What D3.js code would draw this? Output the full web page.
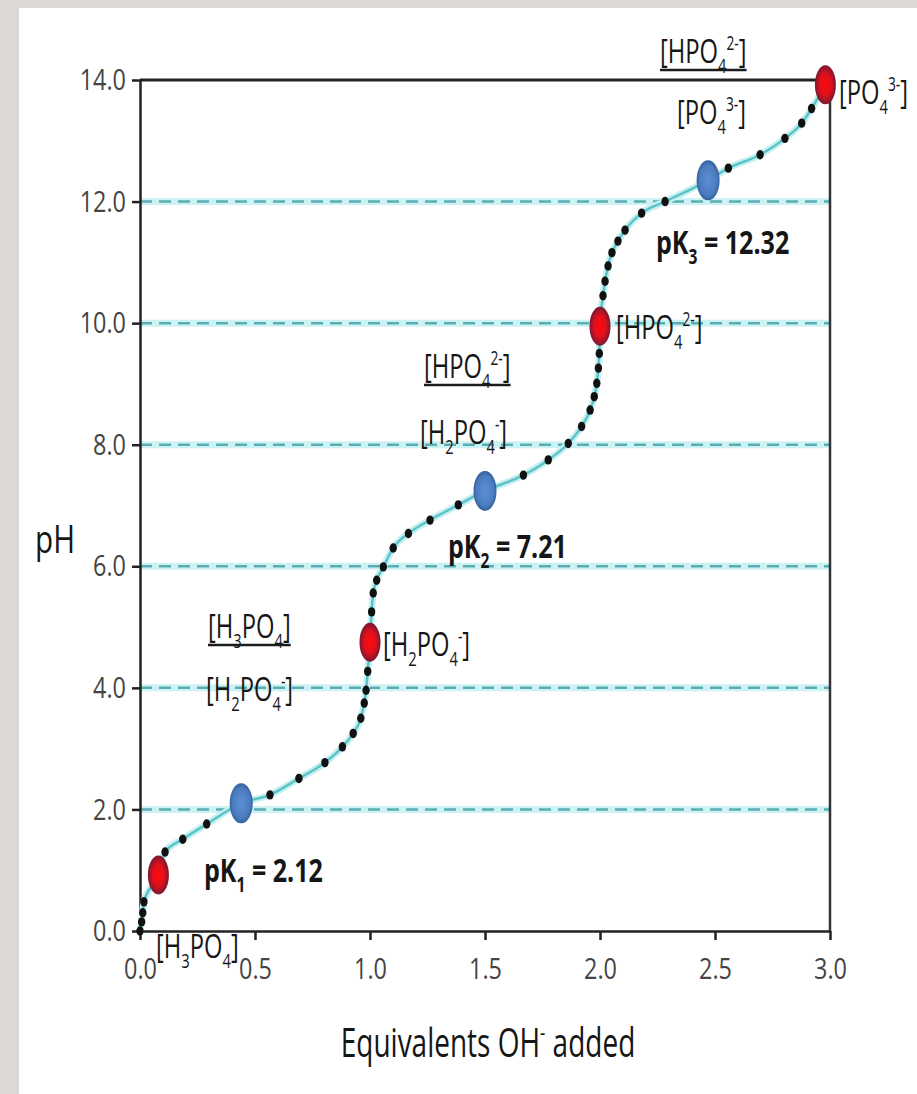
<!DOCTYPE html>
<html>
<head>
<meta charset="utf-8">
<script src="https://cdn.jsdelivr.net/npm/d3@7"></script>
<style>
  body { margin: 0; background: #dcd9d4; }
  svg { display: block; }
</style>
</head>
<body>
<div id="chart"></div>
<script>
// titration points (black dots), equivalents OH- vs pH
const dotEq = [0.0, 0.007, 0.012, 0.017, 0.109, 0.186, 0.29, 0.565, 0.691, 0.804, 0.88, 0.927, 0.96, 0.975, 0.983, 0.99,
  1.007, 1.014, 1.029, 1.058, 1.101, 1.167, 1.261, 1.384, 1.667, 1.775, 1.862, 1.92, 1.957, 1.975, 1.986, 1.993, 1.997,
  2.013, 2.022, 2.035, 2.052, 2.078, 2.109, 2.181, 2.283, 2.558, 2.696, 2.804, 2.877, 2.92];
const dotPH = [0.0, 0.15, 0.3, 0.48, 1.3, 1.51, 1.76, 2.24, 2.51, 2.77, 3.03, 3.25, 3.5, 3.75, 3.96, 4.27,
  5.25, 5.56, 5.77, 5.99, 6.3, 6.54, 6.76, 7.01, 7.5, 7.75, 8.02, 8.3, 8.57, 8.79, 9.01, 9.26, 9.5,
  10.45, 10.69, 10.94, 11.16, 11.35, 11.53, 11.81, 12.0, 12.55, 12.77, 13.04, 13.29, 13.53];

// equivalence points (red)
const eqPointEq = [0.08, 1.0, 2.0, 2.98];
const eqPointPH = [0.92, 4.75, 9.95, 13.92];

// half-equivalence points, pH = pKa (blue)
const pkEq = [0.44, 1.5, 2.47];
const pkPH = [2.1, 7.24, 12.35];
const pkLabels = ['pK_{1} = 2.12', 'pK_{2} = 7.21', 'pK_{3} = 12.32'];

// species
const species = ['[H_{3}PO_{4}]', '[H_{2}PO_{4}^{-}]', '[HPO_{4}^{2-}]', '[PO_{4}^{3-}]'];

const yTicks = [0, 2, 4, 6, 8, 10, 12, 14];
const xTicks = [0, 0.5, 1.0, 1.5, 2.0, 2.5, 3.0];
const gridPH = [2, 4, 6, 8, 10, 12];

const W = 917, H = 1094;
const FONT = '"Open Sans", "Liberation Sans", sans-serif';
const SX = 0.72;

const svg = d3.select('#chart').append('svg')
  .attr('width', W)
  .attr('height', H);

svg.append('rect')
  .attr('x', 19).attr('y', 8)
  .attr('width', W - 19).attr('height', H - 8)
  .attr('fill', '#ffffff');

const x = d3.scaleLinear().domain([0, 3]).range([140, 830]);
const y = d3.scaleLinear().domain([0, 14]).range([931, 80]);

// gradients for markers
const defs = svg.append('defs');
const redGrad = defs.append('radialGradient').attr('id', 'redGrad');
redGrad.append('stop').attr('offset', '0%').attr('stop-color', '#ff0a0a');
redGrad.append('stop').attr('offset', '55%').attr('stop-color', '#e0101c');
redGrad.append('stop').attr('offset', '100%').attr('stop-color', '#7a1830');
const blueGrad = defs.append('radialGradient').attr('id', 'blueGrad');
blueGrad.append('stop').attr('offset', '0%').attr('stop-color', '#5d8fd2');
blueGrad.append('stop').attr('offset', '75%').attr('stop-color', '#4c7cc0');
blueGrad.append('stop').attr('offset', '100%').attr('stop-color', '#34609c');

// chemistry-style text: _{sub} and ^{sup}
function chem(g, str, fs, weight) {
  const t = g.append('text')
    .attr('font-family', FONT)
    .attr('font-size', fs)
    .attr('font-weight', weight || 500)
    .attr('fill', '#161616');
  const re = /_\{([^}]*)\}|\^\{([^}]*)\}|([^_^]+)/g;
  let m, shift = 0;
  while ((m = re.exec(str))) {
    let target, size, txt;
    if (m[1] !== undefined) { target = 0.3 * fs; size = 0.62 * fs; txt = m[1]; }
    else if (m[2] !== undefined) { target = -0.4 * fs; size = 0.58 * fs; txt = m[2]; }
    else { target = 0; size = fs; txt = m[3]; }
    t.append('tspan')
      .attr('dy', target - shift)
      .attr('font-size', size)
      .text(txt);
    shift = target;
  }
  return t;
}

function label(str, px, py, fs, opts = {}) {
  const g = svg.append('g')
    .attr('transform', `translate(${px},${py}) scale(${opts.sx || SX},1)`);
  const t = chem(g, str, fs, opts.weight);
  if (opts.anchor) t.attr('text-anchor', opts.anchor);
  if (opts.underline) {
    const w = t.node().getComputedTextLength();
    g.append('line')
      .attr('x1', 0).attr('x2', w)
      .attr('y1', 7).attr('y2', 7)
      .attr('stroke', '#1c1c1c')
      .attr('stroke-width', 2.5);
  }
  return g;
}

// dashed grid lines with soft glow
const grid = svg.append('g');
grid.selectAll('line.glow')
  .data(gridPH)
  .join('line')
  .attr('class', 'glow')
  .attr('x1', x(0)).attr('x2', x(3))
  .attr('y1', d => y(d)).attr('y2', d => y(d))
  .attr('stroke', '#cdf2f3')
  .attr('stroke-width', 7);
grid.selectAll('line.dash')
  .data(gridPH)
  .join('line')
  .attr('class', 'dash')
  .attr('x1', x(0)).attr('x2', x(3))
  .attr('y1', d => y(d)).attr('y2', d => y(d))
  .attr('stroke', '#5aaeb2')
  .attr('stroke-width', 2.5)
  .attr('stroke-dasharray', '12,7');

// frame: top and right
svg.append('line')
  .attr('x1', x(0)).attr('x2', x(3))
  .attr('y1', y(14)).attr('y2', y(14))
  .attr('stroke', '#222').attr('stroke-width', 3);
svg.append('line')
  .attr('x1', x(3)).attr('x2', x(3))
  .attr('y1', y(14)).attr('y2', y(0))
  .attr('stroke', '#333').attr('stroke-width', 2.5);

// axes
const yAxis = svg.append('g')
  .attr('transform', `translate(${x(0)},0)`)
  .call(d3.axisLeft(y).tickValues(yTicks).tickFormat(d3.format('.1f')).tickSize(8).tickSizeOuter(0).tickPadding(10));
const xAxis = svg.append('g')
  .attr('transform', `translate(0,${y(0)})`)
  .call(d3.axisBottom(x).tickValues(xTicks).tickFormat(d3.format('.1f')).tickSize(9).tickSizeOuter(0).tickPadding(18));

[yAxis, xAxis].forEach(ax => {
  ax.select('.domain').attr('stroke', '#222').attr('stroke-width', 2.5);
  ax.selectAll('.tick line').attr('stroke', '#222').attr('stroke-width', 2.5);
  ax.selectAll('.tick text')
    .attr('font-family', FONT)
    .attr('font-size', 30)
    .attr('fill', '#444')
    .attr('transform', 'scale(0.78,1)');
});

// curve through all points
const curvePts = d3.range(dotEq.length).map(i => [dotEq[i], dotPH[i]])
  .concat(eqPointEq.map((d, i) => [d, eqPointPH[i]]))
  .concat(pkEq.map((d, i) => [d, pkPH[i]]))
  .sort((a, b) => a[0] - b[0]);

const line = d3.line()
  .x(d => x(d[0]))
  .y(d => y(d[1]))
  .curve(d3.curveMonotoneX);

svg.append('path')
  .datum(curvePts)
  .attr('d', line)
  .attr('fill', 'none')
  .attr('stroke', '#c6f0f1')
  .attr('stroke-width', 7);
svg.append('path')
  .datum(curvePts)
  .attr('d', line)
  .attr('fill', 'none')
  .attr('stroke', '#5cc3c8')
  .attr('stroke-width', 2.5);

svg.append('g')
  .selectAll('ellipse')
  .data(dotEq)
  .join('ellipse')
  .attr('cx', d => x(d))
  .attr('cy', (d, i) => y(dotPH[i]))
  .attr('rx', 3.7)
  .attr('ry', 4.7)
  .attr('fill', '#111');

svg.append('g')
  .selectAll('ellipse')
  .data(pkEq)
  .join('ellipse')
  .attr('cx', d => x(d))
  .attr('cy', (d, i) => y(pkPH[i]))
  .attr('rx', 11.5)
  .attr('ry', 20)
  .attr('fill', 'url(#blueGrad)');

svg.append('g')
  .selectAll('ellipse')
  .data(eqPointEq)
  .join('ellipse')
  .attr('cx', d => x(d))
  .attr('cy', (d, i) => y(eqPointPH[i]))
  .attr('rx', 10.5)
  .attr('ry', 19.5)
  .attr('fill', 'url(#redGrad)');

// annotations
const FS = 33;
const PK = { weight: 700, sx: 0.76 };
label(species[0], 208, 638, FS, { underline: true });
label(species[1], 206, 701, FS);
label(species[1], 383, 656, FS);
label(pkLabels[0], 204, 882, FS, PK);
label(species[0], 156, 958, FS);

label(species[2], 424, 378, FS, { underline: true });
label(species[1], 420, 444, FS);
label(pkLabels[1], 448, 558, FS, PK);
label(species[2], 616, 339, FS);

label(species[2], 660, 63, FS, { underline: true });
label(species[3], 677, 124, FS);
label(pkLabels[2], 656, 254, FS, PK);
label(species[3], 839, 104, FS);

// axis titles
label('pH', 55, 553, 38, { anchor: 'middle', sx: 0.78, weight: 400 });
label('Equivalents OH^{-} added', 488, 1057, 40, { anchor: 'middle', sx: 0.7, weight: 400 });
</script>
</body>
</html>
